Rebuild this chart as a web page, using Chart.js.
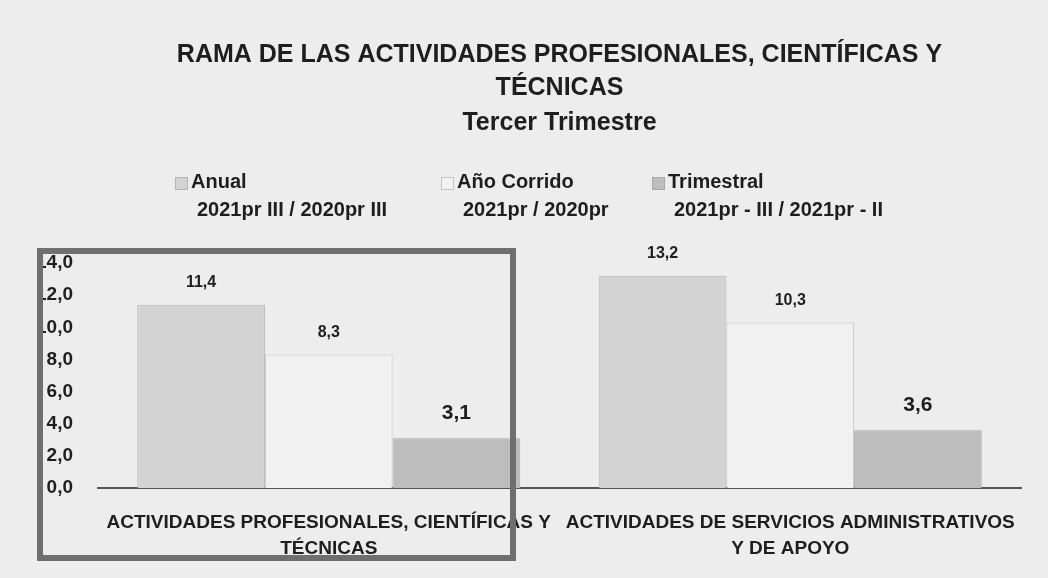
<!DOCTYPE html>
<html lang="es">
<head>
    <meta charset="UTF-8">
    <title>Rama de las actividades profesionales</title>
    <script src="https://cdn.jsdelivr.net/npm/chart.js@4.4.1/dist/chart.umd.min.js"></script>
    <style>
        body { margin: 0; background: #ededed; }
        #wrap { width: 1048px; height: 578px; }
    </style>
</head>
<body>
<div id="wrap"><canvas id="grafico" width="1048" height="578"></canvas></div>
<script>
    // datos
    var categorias = [
        ['ACTIVIDADES PROFESIONALES, CIENTÍFICAS Y', 'TÉCNICAS'],
        ['ACTIVIDADES DE SERVICIOS ADMINISTRATIVOS', 'Y DE APOYO']
    ];
    var anual = [11.4, 13.2];
    var anoCorrido = [8.3, 10.3];
    var trimestral = [3.1, 3.6];
    var nombresSeries = [
        ['Anual', '2021pr III / 2020pr III'],
        ['Año Corrido', '2021pr / 2020pr'],
        ['Trimestral', '2021pr - III / 2021pr - II']
    ];
    var ejeY = { min: 0, max: 14, paso: 2 };

    var fuente = "'Liberation Sans', Arial, sans-serif";

    function conComa(v, dec) {
        return v.toFixed(dec).replace('.', ',');
    }

    // etiquetas de valor encima de cada barra
    var etiquetasPlugin = {
        id: 'etiquetas',
        afterDatasetsDraw: function(chart) {
            var ctx = chart.ctx;
            ctx.save();
            ctx.fillStyle = '#1e1e1e';
            ctx.textAlign = 'center';
            ctx.textBaseline = 'middle';
            chart.data.datasets.forEach(function(ds, i) {
                var meta = chart.getDatasetMeta(i);
                var grande = (i == 2);
                ctx.font = 'bold ' + (grande ? 21 : 16) + 'px ' + fuente;
                meta.data.forEach(function(bar, j) {
                    ctx.fillText(conComa(ds.data[j], 1), bar.x, bar.y - (grande ? 25 : 22));
                });
            });
            ctx.restore();
        }
    };

    // leyenda en dos lineas
    var leyendaPlugin = {
        id: 'leyendaDosLineas',
        afterDraw: function(chart) {
            var ctx = chart.ctx;
            var posX = [175, 441, 652];
            ctx.save();
            ctx.textBaseline = 'middle';
            ctx.font = 'bold 20px ' + fuente;
            chart.data.datasets.forEach(function(ds, i) {
                var x = posX[i];
                ctx.fillStyle = ds.backgroundColor;
                ctx.fillRect(x, 177, 13, 13);
                ctx.strokeStyle = ds.borderColor;
                ctx.lineWidth = 1;
                ctx.strokeRect(x + 0.5, 177.5, 12, 12);
                ctx.fillStyle = '#1e1e1e';
                ctx.fillText(ds.label[0], x + 16, 182);
                ctx.fillText(ds.label[1], x + 22, 210);
            });
            ctx.restore();
        }
    };

    // recuadro gris sobre la primera categoria
    var recuadroPlugin = {
        id: 'recuadro',
        afterDraw: function(chart) {
            var ctx = chart.ctx;
            ctx.save();
            ctx.strokeStyle = '#6f6f6f';
            ctx.lineWidth = 6;
            ctx.strokeRect(40, 251, 473, 307);
            ctx.restore();
        }
    };

    var ctx = document.getElementById('grafico').getContext('2d');
    var grafico = new Chart(ctx, {
        type: 'bar',
        data: {
            labels: categorias,
            datasets: [{
                label: nombresSeries[0],
                data: anual,
                backgroundColor: '#d3d3d3',
                borderColor: '#b4b4b4',
                borderWidth: 1
            }, {
                label: nombresSeries[1],
                data: anoCorrido,
                backgroundColor: '#f1f1f1',
                borderColor: '#c6c6c6',
                borderWidth: 1
            }, {
                label: nombresSeries[2],
                data: trimestral,
                backgroundColor: '#bdbdbd',
                borderColor: '#a9a9a9',
                borderWidth: 1
            }]
        },
        options: {
            responsive: false,
            animation: false,
            devicePixelRatio: 1,
            layout: {
                padding: { top: 39, left: 0, right: 27, bottom: 0 }
            },
            datasets: {
                bar: { categoryPercentage: 0.83, barPercentage: 1.0 }
            },
            scales: {
                x: {
                    afterFit: function(scale) { scale.height = 90; },
                    grid: { display: false, drawTicks: false },
                    border: { display: true, color: '#555555', width: 2 },
                    ticks: {
                        padding: 22,
                        autoSkip: false,
                        maxRotation: 0,
                        minRotation: 0,
                        color: '#1e1e1e',
                        font: { family: fuente, size: 19, weight: 'bold', lineHeight: 1.36 }
                    }
                },
                y: {
                    min: ejeY.min,
                    max: ejeY.max,
                    afterFit: function(scale) { scale.width = 98; },
                    grid: { display: false, drawTicks: false },
                    border: { display: false },
                    ticks: {
                        stepSize: ejeY.paso,
                        padding: 25,
                        color: '#1e1e1e',
                        font: { family: fuente, size: 19, weight: 'bold' },
                        callback: function(v) { return conComa(v, 1); }
                    }
                }
            },
            plugins: {
                legend: { display: false },
                tooltip: { enabled: false },
                title: {
                    display: true,
                    fullSize: false,
                    text: ['RAMA DE LAS ACTIVIDADES PROFESIONALES, CIENTÍFICAS Y', 'TÉCNICAS'],
                    color: '#1e1e1e',
                    font: { family: fuente, size: 25, weight: 'bold', lineHeight: 1.32 },
                    padding: { top: 0, bottom: 6 }
                },
                subtitle: {
                    display: true,
                    fullSize: false,
                    text: 'Tercer Trimestre',
                    color: '#1e1e1e',
                    font: { family: fuente, size: 25, weight: 'bold', lineHeight: 1.0 },
                    padding: { top: 0, bottom: 127 }
                }
            }
        },
        plugins: [etiquetasPlugin, leyendaPlugin, recuadroPlugin]
    });
</script>
</body>
</html>
